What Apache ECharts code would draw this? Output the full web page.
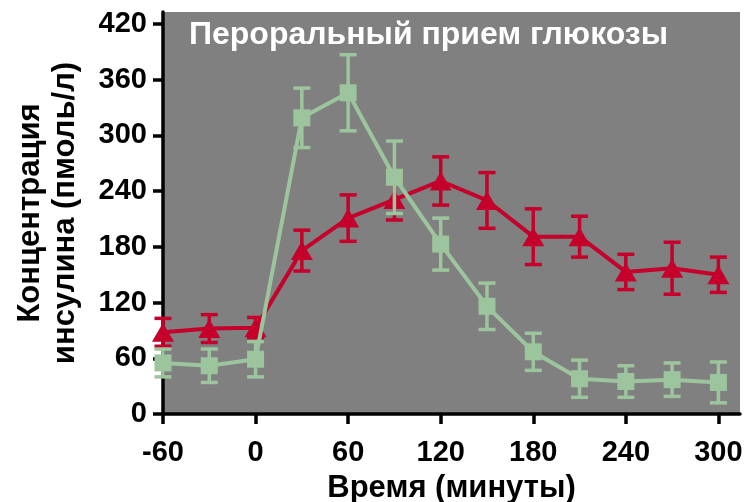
<!DOCTYPE html>
<html><head><meta charset="utf-8">
<script src="https://cdn.jsdelivr.net/npm/echarts@6/dist/echarts.min.js"></script>
<style>html,body{margin:0;padding:0;background:#fff}#c{width:746px;height:502px}</style>
</head><body><div id="c"></div>
<script>
var times = [-60, -30, 0, 30, 60, 90, 120, 150, 180, 210, 240, 270, 300];
var redMean = [88, 92, 93, 176, 211, 231, 251, 230, 191, 191, 153, 157, 150];
var redErr = [15, 15, 11, 22, 25, 22, 26, 30, 30, 22, 19, 28, 19];
var greenMean = [55, 52, 59, 319, 346, 255, 183, 116, 67, 38, 35, 37, 34];
var greenErr = [15, 18, 19, 32, 41, 39, 28, 25, 20, 20, 17, 18, 22];
var xTicks = [-60, 0, 60, 120, 180, 240, 300];
var yTicks = [0, 60, 120, 180, 240, 300, 360, 420];

var RED = '#C4002B', GREEN = '#9DC59D';
var FONT = 'Liberation Sans, Arial, sans-serif';

function errData(mean, err) {
  return times.map(function (t, i) { return [t, mean[i] - err[i], mean[i] + err[i]]; });
}
function errSeries(mean, err, color, z) {
  return {
    type: 'custom', z: z, silent: true,
    data: errData(mean, err),
    renderItem: function (params, api) {
      var x = api.value(0);
      var top = api.coord([x, api.value(2)]);
      var bot = api.coord([x, api.value(1)]);
      var w = 8.5;
      var st = { stroke: color, lineWidth: 3.5 };
      return { type: 'group', children: [
        { type: 'line', shape: { x1: top[0], y1: top[1], x2: bot[0], y2: bot[1] }, style: st },
        { type: 'line', shape: { x1: top[0] - w, y1: top[1], x2: top[0] + w, y2: top[1] }, style: st },
        { type: 'line', shape: { x1: bot[0] - w, y1: bot[1], x2: bot[0] + w, y2: bot[1] }, style: st }
      ]};
    }
  };
}
function pairs(mean) { return times.map(function (t, i) { return [t, mean[i]]; }); }

var chart = echarts.init(document.getElementById('c'));
chart.setOption({
  animation: false,
  title: {
    text: 'Пероральный прием глюкозы', left: 184, top: 14,
    textStyle: { color: '#fff', fontFamily: FONT, fontWeight: 'bold', fontSize: 32 }
  },
  grid: { left: 163, top: 12, right: 6, bottom: 88, show: true, backgroundColor: '#808080', borderWidth: 0,
          outerBoundsMode: 'none', containLabel: false },
  xAxis: {
    type: 'value', min: -60, max: 314,
    name: 'Время (минуты)', nameLocation: 'middle', nameGap: 59,
    nameTextStyle: { color: '#000', fontFamily: FONT, fontWeight: 'bold', fontSize: 31 },
    axisLine: { onZero: false, lineStyle: { color: '#000', width: 3.5 } },
    axisTick: { show: true, length: 10, lineStyle: { color: '#000', width: 3.5 }, customValues: xTicks },
    axisLabel: { color: '#000', fontFamily: FONT, fontWeight: 'bold', fontSize: 29, margin: 24, customValues: xTicks },
    splitLine: { show: false }
  },
  yAxis: {
    type: 'value', min: 0, max: 433,
    name: 'Концентрация\nинсулина (пмоль/л)', nameLocation: 'middle', nameGap: 80,
    nameTextStyle: { color: '#000', fontFamily: FONT, fontWeight: 'bold', fontSize: 31, lineHeight: 35 },
    axisLine: { show: true, onZero: false, lineStyle: { color: '#000', width: 3.5 } },
    axisTick: { show: true, length: 10, lineStyle: { color: '#000', width: 3.5 }, customValues: yTicks },
    axisLabel: { color: '#000', fontFamily: FONT, fontWeight: 'bold', fontSize: 29, margin: 16, customValues: yTicks },
    splitLine: { show: false }
  },
  series: [
    errSeries(redMean, redErr, RED, 2),
    { type: 'line', z: 3, data: pairs(redMean), symbol: 'triangle', symbolSize: [22, 19],
      itemStyle: { color: RED }, lineStyle: { color: RED, width: 4 } },
    errSeries(greenMean, greenErr, GREEN, 4),
    { type: 'line', z: 5, data: pairs(greenMean), symbol: 'rect', symbolSize: 17,
      itemStyle: { color: GREEN }, lineStyle: { color: GREEN, width: 4 } }
  ]
});
</script></body></html>
